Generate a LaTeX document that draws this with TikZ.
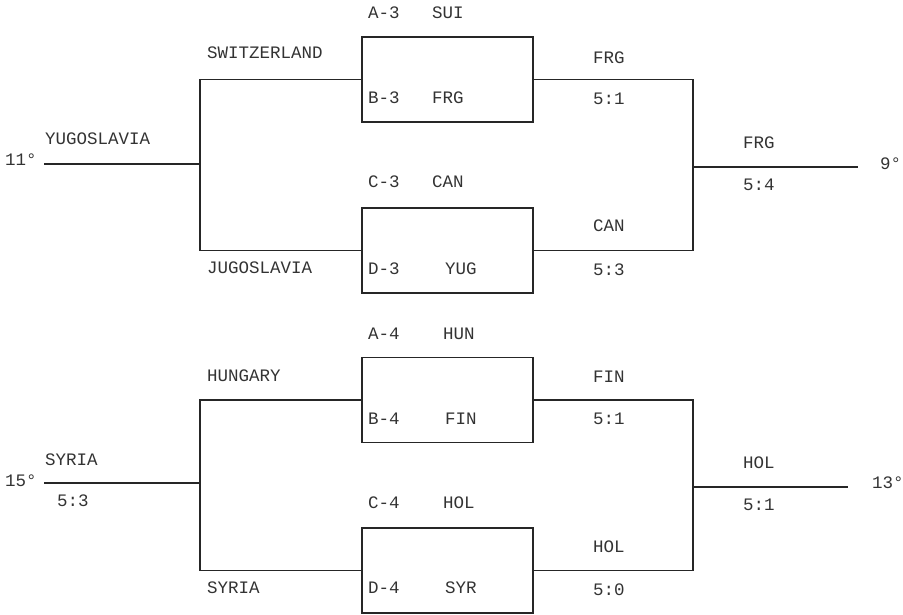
\documentclass[tikz,border=0pt]{standalone}
\usepackage{fontspec}
\setmainfont{Liberation Mono}
\begin{document}
\begin{tikzpicture}[x=1pt,y=-1pt,
  line/.style={line width=1.2pt, black!85},
  matchbox/.style={draw, line width=1.2pt, black!85, minimum width=171pt, minimum height=85pt, inner sep=0pt},
  lbl/.style={anchor=base west, inner sep=0pt, font=\fontsize{17.5}{20}\selectfont, text=black!80}]
\useasboundingbox (0,0) rectangle (903,615);

% ---------- top bracket ----------
\node[matchbox] (b1) at (447.5,79.5) {};
\node[matchbox] (b2) at (447.5,250.5) {};
\coordinate (s1) at (44,164);
\coordinate (j1) at (200,164);
\coordinate (k1) at (693,167);
\coordinate (e1) at (858,167);
\draw[line] (s1) -- (j1);
\draw[line] (j1) |- (b1.west);
\draw[line] (j1) |- (b2.west);
\draw[line] (b1.east) -| (k1);
\draw[line] (b2.east) -| (k1);
\draw[line] (k1) -- (e1);

\node[lbl] (p11) at (5,166) {11°};
\node[lbl] (yug) at (45,145) {YUGOSLAVIA};
\node[lbl] (sui) at (207,59) {SWITZERLAND};
\node[lbl] (jug) at (207,273) {JUGOSLAVIA};
\node[lbl] (a3) at (368,19) {A-3};
\node[lbl] (a3t) at (432,19) {SUI};
\node[lbl] (b3) at (368,104) {B-3};
\node[lbl] (b3t) at (432,104) {FRG};
\node[lbl] (c3) at (368,188) {C-3};
\node[lbl] (c3t) at (432,188) {CAN};
\node[lbl] (d3) at (368,274) {D-3};
\node[lbl] (d3t) at (445,274) {YUG};
\node[lbl] (w1) at (593,64) {FRG};
\node[lbl] (r1) at (593,105) {5:1};
\node[lbl] (w2) at (593,232) {CAN};
\node[lbl] (r2) at (593,275) {5:3};
\node[lbl] (w3) at (743,149) {FRG};
\node[lbl] (r3) at (743,190) {5:4};
\node[lbl] (p9) at (880,170) {9°};

% ---------- bottom bracket ----------
\node[matchbox] (b3box) at (447.5,400) {};
\node[matchbox] (b4box) at (447.5,570.5) {};
\coordinate (s2) at (44,483);
\coordinate (j2) at (200,483);
\coordinate (k2) at (693,487);
\coordinate (e2) at (848,487);
\draw[line] (s2) -- (j2);
\draw[line] (j2) |- (b3box.west);
\draw[line] (j2) |- (b4box.west);
\draw[line] (b3box.east) -| (k2);
\draw[line] (b4box.east) -| (k2);
\draw[line] (k2) -- (e2);

\node[lbl] (p15) at (5,486) {15°};
\node[lbl] (syr) at (45,465) {SYRIA};
\node[lbl] (syrr) at (57,506) {5:3};
\node[lbl] (hun) at (207,381) {HUNGARY};
\node[lbl] (syr2) at (207,593) {SYRIA};
\node[lbl] (a4) at (368,339) {A-4};
\node[lbl] (a4t) at (443,339) {HUN};
\node[lbl] (b4) at (368,424) {B-4};
\node[lbl] (b4t) at (445,424) {FIN};
\node[lbl] (c4) at (368,508) {C-4};
\node[lbl] (c4t) at (443,508) {HOL};
\node[lbl] (d4) at (368,593) {D-4};
\node[lbl] (d4t) at (445,593) {SYR};
\node[lbl] (w4) at (593,382) {FIN};
\node[lbl] (r4) at (593,424) {5:1};
\node[lbl] (w5) at (593,552) {HOL};
\node[lbl] (r5) at (593,595) {5:0};
\node[lbl] (w6) at (743,468) {HOL};
\node[lbl] (r6) at (743,510) {5:1};
\node[lbl] (p13) at (872,488) {13°};
\end{tikzpicture}
\end{document}
